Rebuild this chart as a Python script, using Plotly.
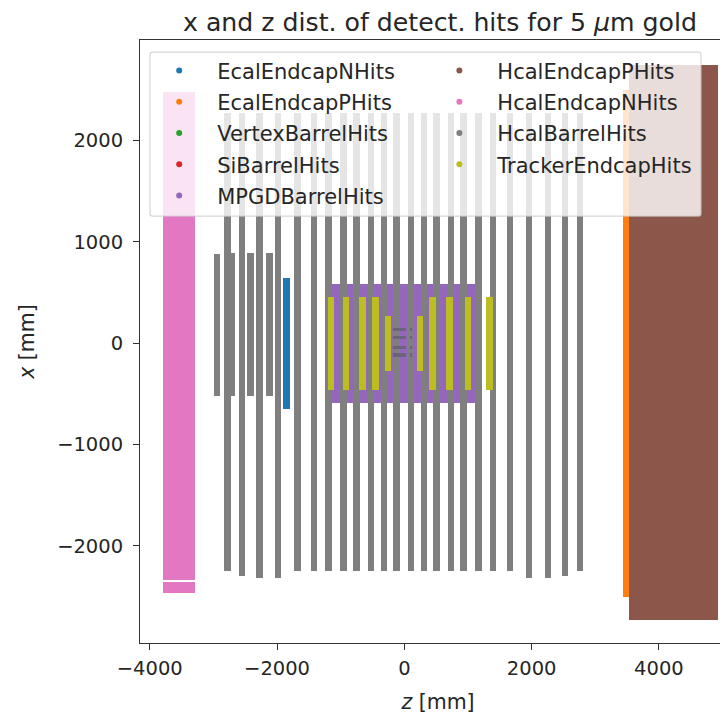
import plotly.graph_objects as go

names = ["EcalEndcapNHits", "EcalEndcapPHits", "VertexBarrelHits", "SiBarrelHits", "MPGDBarrelHits",
         "HcalEndcapPHits", "HcalEndcapNHits", "HcalBarrelHits", "TrackerEndcapHits"]
colors = ["#1f77b4", "#ff7f0e", "#2ca02c", "#d62728", "#9467bd", "#8c564b", "#e377c2", "#7f7f7f", "#bcbd22"]

# each detector: z centre, z width, x low, x high (mm)
ecal_n = dict(z=[-1849], w=[104], lo=[-650], hi=[640])
ecal_p = dict(z=[3490], w=[102], lo=[-2507], hi=[2497])
vertex = dict(z=[-80, 103], w=[204, 36], lo=[118, 118], hi=[148, 148])
si = dict(z=[-80, -80, -80, 103, 103, 103], w=[204, 204, 204, 36, 36, 36],
          lo=[39, -59, -138, 39, -59, -138], hi=[69, -30, -99, 69, -30, -99])
mpgd = dict(z=[-18], w=[2283], lo=[-590], hi=[582])
hcal_p = dict(z=[4230], w=[1395], lo=[-2735], hi=[2745])
hcal_n = dict(z=[-3539, -3539], w=[497, 497], lo=[-2462, -2340], hi=[-2360, 2478])
hcal_b = dict(
    z=[-2777, -2546, -2278, -1980, -1681, -1420, -1189, -958, -753, -524, -324, -124,
       105, 305, 505, 734, 929, 1165, 1395, 1662, 1961, 2259, 2522, 2758,
       -2942, -2711, -2415, -2116],
    w=[100] * 28,
    lo=[-2250, -2300, -2320, -2320, -2250, -2250, -2250, -2250, -2250, -2250, -2250, -2250,
        -2250, -2250, -2250, -2250, -2250, -2250, -2250, -2250, -2320, -2320, -2300, -2250,
        -523, -525, -525, -525],
    hi=[2270, 2270, 2270, 2270, 2270, 2270, 2270, 2270, 2270, 2270, 2270, 2270,
        2270, 2270, 2270, 2270, 2270, 2270, 2270, 2270, 2270, 2270, 2270, 2270,
        878, 890, 890, 890],
)
tracker = dict(
    z=[-1149, -921, -656, -454, -258, 242, 442, 709, 1002, 1338],
    w=[98] * 10,
    lo=[-465, -465, -465, -465, -276, -276, -465, -465, -465, -465],
    hi=[450, 450, 450, 450, 266, 266, 450, 450, 450, 450],
)
details = [ecal_n, ecal_p, vertex, si, mpgd, hcal_p, hcal_n, hcal_b, tracker]

x_ticks = [-4000, -2000, 0, 2000, 4000]
y_ticks = [-2000, -1000, 0, 1000, 2000]
title = "x and z dist. of detect. hits for 5 <i>μ</i>m gold"

fig = go.Figure()
draw_order = [4, 0, 1, 5, 6, 7, 2, 3, 8]
for i in draw_order:
    d = details[i]
    color = "#6a6478" if i in (2, 3) else colors[i]
    fig.add_trace(go.Bar(
        x=d["z"], width=d["w"], base=d["lo"],
        y=[h - l for h, l in zip(d["hi"], d["lo"])],
        marker=dict(color=color, line=dict(width=0)),
        showlegend=False, hoverinfo="skip", name=names[i],
    ))
for i, n in enumerate(names):
    fig.add_trace(go.Scatter(
        x=[None], y=[None], mode="markers", name=n,
        marker=dict(color=colors[i], size=6),
        legend="legend" if i < 5 else "legend2",
        legendgroup=n, showlegend=True,
    ))

ink = "#262626"
tick_font = dict(family="DejaVu Sans", size=19.5, color=ink)
label_font = dict(family="DejaVu Sans", size=20.5, color=ink)
leg_font = dict(family="DejaVu Sans", size=21, color=ink)
leg = dict(bgcolor="rgba(0,0,0,0)", borderwidth=0, yanchor="top", xanchor="left",
           traceorder="grouped", tracegroupgap=1, itemsizing="trace", itemwidth=66, font=leg_font,
           itemclick=False, itemdoubleclick=False)
box = ("M 0.0209 0.980 L 0.9372 0.980 Q 0.9412 0.980 0.9412 0.976 L 0.9412 0.712 Q 0.9412 0.708 0.9372 0.708 "
       "L 0.0209 0.708 Q 0.0168 0.708 0.0168 0.712 L 0.0168 0.976 Q 0.0168 0.980 0.0209 0.980 Z")
fig.update_layout(
    width=728, height=709, autosize=False,
    paper_bgcolor="white", plot_bgcolor="white",
    margin=dict(l=132, r=0, t=32, b=74),
    barmode="overlay", bargap=0,
    font=tick_font,
    title=dict(text=title, x=432 / 728, xanchor="center", y=1 - 14 / 709, yanchor="middle",
               font=dict(family="DejaVu Sans", size=25.2, color=ink)),
    xaxis=dict(range=[-4153, 5211], tickvals=x_ticks, ticks="outside", ticklen=6, tickwidth=1,
               ticklabelstandoff=2,
               tickcolor="#333", showgrid=False, zeroline=False, showline=True, mirror=True,
               linecolor="#333", linewidth=1,
               title=dict(text="<i>z</i> [mm]", standoff=15, font=label_font)),
    yaxis=dict(range=[-2960, 2990], tickvals=y_ticks, ticks="outside", ticklen=6, tickwidth=1,
               ticklabelstandoff=6,
               tickcolor="#333", showgrid=False, zeroline=False, showline=True, mirror=True,
               linecolor="#333", linewidth=1,
               title=dict(text="<i>x</i> [mm]", standoff=16, font=label_font)),
    legend=dict(x=0.002, y=0.983, **leg),
    legend2=dict(x=0.4721, y=0.983, **leg),
    shapes=[dict(type="path", xref="paper", yref="paper", layer="above", path=box,
                 fillcolor="rgba(255,255,255,0.8)", line=dict(color="rgba(204,204,204,0.8)", width=1.2))],
)
fig.write_html("out.html")
